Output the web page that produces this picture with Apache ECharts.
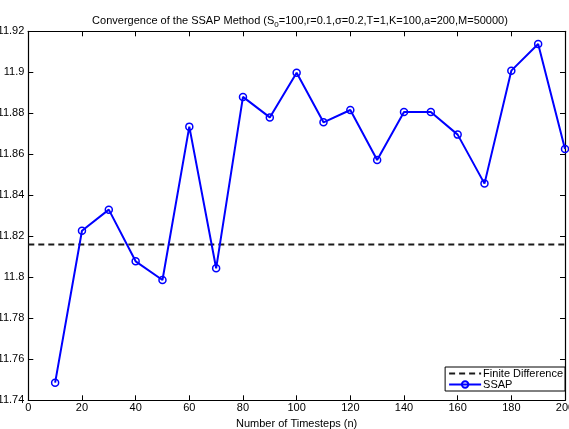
<!DOCTYPE html>
<html><head><meta charset="utf-8">
<script src="https://cdn.jsdelivr.net/npm/echarts@6/dist/echarts.min.js"></script>
<style>html,body{margin:0;padding:0;background:#fff}#c{width:569px;height:429px}</style>
</head><body><div id="c"></div>
<script>
const timesteps = [10,20,30,40,50,60,70,80,90,100,110,120,130,140,150,160,170,180,190,200];
const ssapValues = [11.7486,11.8227,11.8330,11.8078,11.7987,11.8735,11.8044,11.8880,11.8780,11.8998,11.8756,11.8816,11.8572,11.8806,11.8806,11.8696,11.8457,11.9008,11.9138,11.8626];
const finiteDifference = 11.8160;
const xRange = [0, 200];
const yTicks = {min: 11.74, max: 11.92, step: 0.02};

const font = 'Liberation Sans, Arial, sans-serif';
const chart = echarts.init(document.getElementById('c'));
const tickStyle = {show: true, inside: true, length: 5, lineStyle: {color: '#000', width: 1}};
const axLine = {show: true, onZero: false, lineStyle: {color: '#000', width: 1.2}};
chart.setOption({
  animation: false,
  backgroundColor: '#fff',
  textStyle: {fontFamily: font},
  title: {
    text: 'Convergence of the SSAP Method (S{sub|0}=100,r=0.1,σ=0.2,T=1,K=100,a=200,M=50000)',
    left: 295, top: 8, textAlign: 'center',
    textStyle: {fontSize: 11, fontWeight: 'normal', color: '#000', fontFamily: font,
      rich: {sub: {fontSize: 8, verticalAlign: 'bottom', padding: [8,0,0,0], fontFamily: font}}}
  },
  grid: {left: 28.3, right: 4, top: 31.3, bottom: 28.7, containLabel: false, outerBoundsMode: 'none'},
  legend: {
    right: 4, top: 367, orient: 'vertical', itemGap: 0, itemWidth: 32, itemHeight: 8,
    padding: [1, 2, 1, 3], borderColor: '#000', borderWidth: 1, backgroundColor: '#fff',
    textStyle: {fontSize: 11, color: '#000', fontFamily: font, padding: [0,0,0,-3]},
    data: [{name: 'Finite Difference', itemStyle: {opacity: 0}}, 'SSAP']
  },
  xAxis: [{
    type: 'value', min: xRange[0], max: xRange[1], interval: 20,
    name: 'Number of Timesteps (n)', nameLocation: 'middle', nameGap: 15,
    nameTextStyle: {fontSize: 11, color: '#000', fontFamily: font},
    axisLine: axLine, axisTick: tickStyle, splitLine: {show: false},
    axisLabel: {fontSize: 11, color: '#000', margin: 2, fontFamily: font}
  }, {
    type: 'value', position: 'top', min: xRange[0], max: xRange[1], interval: 20,
    axisLine: axLine, axisTick: tickStyle, splitLine: {show: false}, axisLabel: {show: false}
  }],
  yAxis: [{
    type: 'value', min: yTicks.min, max: yTicks.max, interval: yTicks.step,
    axisLine: axLine, axisTick: tickStyle, splitLine: {show: false},
    axisLabel: {fontSize: 11, color: '#000', margin: 4, fontFamily: font,
      formatter: v => String(Math.round(v * 100) / 100)}
  }, {
    type: 'value', position: 'right', min: yTicks.min, max: yTicks.max, interval: yTicks.step,
    axisLine: axLine, axisTick: tickStyle, splitLine: {show: false}, axisLabel: {show: false}
  }],
  series: [{
    name: 'Finite Difference', type: 'line', showSymbol: false, symbol: 'none',
    data: [[xRange[0], finiteDifference], [xRange[1], finiteDifference]],
    lineStyle: {color: '#1a1a1a', width: 2, type: [6, 4]}, itemStyle: {color: '#1a1a1a'}
  }, {
    name: 'SSAP', type: 'line', symbol: 'circle', symbolSize: 7,
    data: timesteps.map((t, i) => [t, ssapValues[i]]),
    lineStyle: {color: '#0000ff', width: 2},
    itemStyle: {color: 'rgba(255,255,255,0)', borderColor: '#0000ff', borderWidth: 1.5}
  }]
});
</script></body></html>
